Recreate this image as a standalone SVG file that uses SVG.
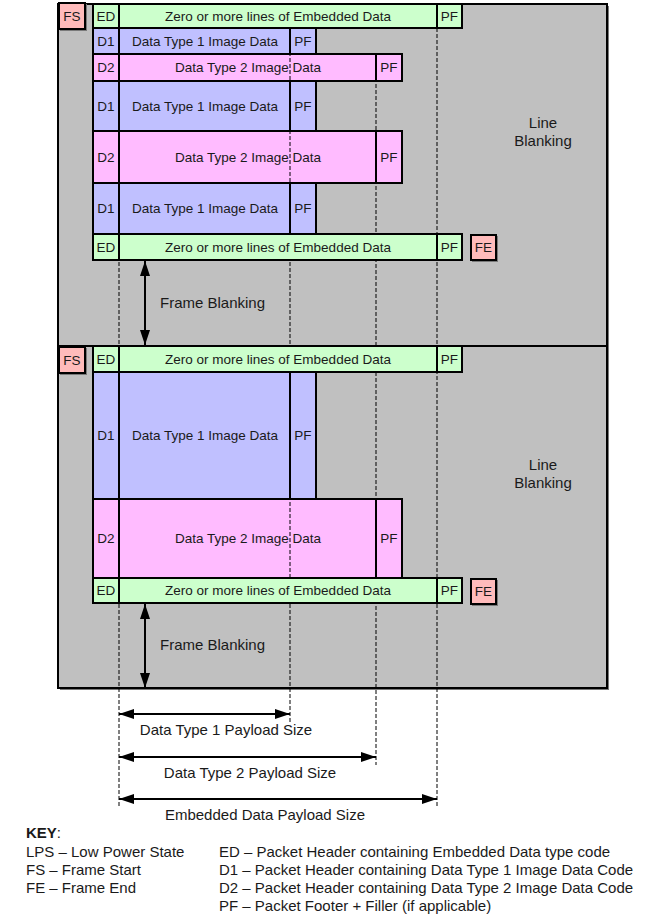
<svg xmlns="http://www.w3.org/2000/svg" width="669" height="918" viewBox="0 0 669 918">
<style>
text{font-family:"Liberation Sans",Arial,sans-serif;fill:#1a1a1a}
.b{font-size:13.5px;text-anchor:middle}
.l{font-size:15px}
.c{text-anchor:middle}
.frame{fill:#c0c0c0;stroke:#000;stroke-width:2}
.sh{fill:#7a7a7a}
.g{fill:#ccffcc;stroke:#000;stroke-width:2}
.v{fill:#c0c0ff;stroke:#000;stroke-width:2}
.p{fill:#ffbbff;stroke:#000;stroke-width:2}
.r{fill:#ffbbbb;stroke:#000;stroke-width:2}
.d{stroke:#000;stroke-width:1;stroke-dasharray:4 2;fill:none}
.a{stroke:#000;stroke-width:2;fill:none;marker-start:url(#ah);marker-end:url(#ah)}
</style>
<defs>
<marker id="ah" viewBox="0 0 15 10" refX="15" refY="5" markerWidth="15" markerHeight="10" markerUnits="userSpaceOnUse" orient="auto-start-reverse"><path d="M0,0 L15,5 L0,10 z" fill="#000"/></marker>
</defs>
<rect width="669" height="918" fill="#fff"/>
<g id="frame1"><rect class="sh" x="60" y="6" width="549" height="342"/><rect class="frame" x="58" y="4" width="549" height="342"/></g>
<g id="frame2"><rect class="sh" x="60" y="348" width="549" height="342"/><rect class="frame" x="58" y="346" width="549" height="342"/></g>

<g id="f1-d1a"><rect class="v" x="93" y="28" width="26" height="26"/><rect class="v" x="119" y="28" width="171" height="26"/><rect class="v" x="290" y="28" width="26" height="26"/>
<text class="b" x="106" y="45.8">D1</text><text class="b" x="205" y="45.8">Data Type 1 Image Data</text><text class="b" x="303" y="45.8">PF</text></g>
<g id="f1-d2a"><rect class="p" x="93" y="54" width="26" height="27"/><rect class="p" x="119" y="54" width="257" height="27"/><rect class="p" x="376" y="54" width="26" height="27"/>
<text class="b" x="106" y="72.3">D2</text><text class="b" x="248" y="72.3">Data Type 2 Image Data</text><text class="b" x="389" y="72.3">PF</text></g>
<g id="f1-d1b"><rect class="v" x="93" y="81" width="26" height="50"/><rect class="v" x="119" y="81" width="171" height="50"/><rect class="v" x="290" y="81" width="26" height="50"/>
<text class="b" x="106" y="110.8">D1</text><text class="b" x="205" y="110.8">Data Type 1 Image Data</text><text class="b" x="303" y="110.8">PF</text></g>
<g id="f1-d2b"><rect class="p" x="93" y="131" width="26" height="52"/><rect class="p" x="119" y="131" width="257" height="52"/><rect class="p" x="376" y="131" width="26" height="52"/>
<text class="b" x="106" y="161.8">D2</text><text class="b" x="248" y="161.8">Data Type 2 Image Data</text><text class="b" x="389" y="161.8">PF</text></g>
<g id="f1-d1c"><rect class="v" x="93" y="183" width="26" height="51"/><rect class="v" x="119" y="183" width="171" height="51"/><rect class="v" x="290" y="183" width="26" height="51"/>
<text class="b" x="106" y="213.3">D1</text><text class="b" x="205" y="213.3">Data Type 1 Image Data</text><text class="b" x="303" y="213.3">PF</text></g>
<g id="f2-d1"><rect class="v" x="93" y="372" width="26" height="127"/><rect class="v" x="119" y="372" width="171" height="127"/><rect class="v" x="290" y="372" width="26" height="127"/>
<text class="b" x="106" y="440.3">D1</text><text class="b" x="205" y="440.3">Data Type 1 Image Data</text><text class="b" x="303" y="440.3">PF</text></g>
<g id="f2-d2"><rect class="p" x="93" y="499" width="26" height="79"/><rect class="p" x="119" y="499" width="257" height="79"/><rect class="p" x="376" y="499" width="26" height="79"/>
<text class="b" x="106" y="543.3">D2</text><text class="b" x="248" y="543.3">Data Type 2 Image Data</text><text class="b" x="389" y="543.3">PF</text></g>

<g id="connectors">
<line class="d" x1="119" y1="4" x2="119" y2="808"/>
<line class="d" x1="290" y1="28" x2="290" y2="723"/>
<line class="d" x1="376" y1="54" x2="376" y2="765"/>
<line class="d" x1="437" y1="28" x2="437" y2="808"/>
</g>

<g id="f1-ed-top"><rect class="g" x="93" y="4" width="26" height="24"/><rect class="g" x="119" y="4" width="318" height="24"/><rect class="g" x="437" y="4" width="25" height="24"/>
<text class="b" x="106" y="20.8">ED</text><text class="b" x="278" y="20.8">Zero or more lines of Embedded Data</text><text class="b" x="449.5" y="20.8">PF</text></g>
<g id="f1-ed-bot"><rect class="g" x="93" y="234" width="26" height="26"/><rect class="g" x="119" y="234" width="318" height="26"/><rect class="g" x="437" y="234" width="25" height="26"/>
<text class="b" x="106" y="251.8">ED</text><text class="b" x="278" y="251.8">Zero or more lines of Embedded Data</text><text class="b" x="449.5" y="251.8">PF</text></g>
<g id="f2-ed-top"><rect class="g" x="93" y="346" width="26" height="26"/><rect class="g" x="119" y="346" width="318" height="26"/><rect class="g" x="437" y="346" width="25" height="26"/>
<text class="b" x="106" y="363.8">ED</text><text class="b" x="278" y="363.8">Zero or more lines of Embedded Data</text><text class="b" x="449.5" y="363.8">PF</text></g>
<g id="f2-ed-bot"><rect class="g" x="93" y="578" width="26" height="25"/><rect class="g" x="119" y="578" width="318" height="25"/><rect class="g" x="437" y="578" width="25" height="25"/>
<text class="b" x="106" y="595.3">ED</text><text class="b" x="278" y="595.3">Zero or more lines of Embedded Data</text><text class="b" x="449.5" y="595.3">PF</text></g>

<g id="fs1"><rect class="sh" x="60" y="4" width="27" height="27"/><rect class="r" x="59" y="3" width="26" height="26"/><text class="b" x="72" y="20.8">FS</text></g>
<g id="fe1"><rect class="sh" x="472" y="236" width="26" height="26"/><rect class="r" x="471" y="235" width="25" height="25"/><text class="b" x="483.5" y="252.3">FE</text></g>
<g id="fs2"><rect class="sh" x="60" y="348" width="27" height="27"/><rect class="r" x="59" y="347" width="26" height="26"/><text class="b" x="72" y="364.8">FS</text></g>
<g id="fe2"><rect class="sh" x="472" y="580" width="26" height="26"/><rect class="r" x="471" y="579" width="25" height="25"/><text class="b" x="483.5" y="596.3">FE</text></g>

<g id="labels">
<text class="l c" x="543" y="128">Line</text><text class="l c" x="543" y="146">Blanking</text>
<text class="l c" x="543" y="470">Line</text><text class="l c" x="543" y="488">Blanking</text>
</g>

<g id="blank1"><line class="a" x1="145" y1="261" x2="145" y2="345"/><text class="l" x="160" y="308">Frame Blanking</text></g>
<g id="blank2"><line class="a" x1="145" y1="604" x2="145" y2="688"/><text class="l" x="160" y="650">Frame Blanking</text></g>

<g id="size1"><line class="a" x1="119" y1="714" x2="290" y2="714"/><text class="l c" x="226" y="735">Data Type 1 Payload Size</text></g>
<g id="size2"><line class="a" x1="119" y1="757" x2="376" y2="757"/><text class="l c" x="250" y="778">Data Type 2 Payload Size</text></g>
<g id="size3"><line class="a" x1="119" y1="799" x2="437" y2="799"/><text class="l c" x="265" y="820">Embedded Data Payload Size</text></g>

<g id="key">
<text class="l" x="26" y="838"><tspan font-weight="bold">KEY</tspan>:</text>
<text class="l" x="26" y="857">LPS – Low Power State</text>
<text class="l" x="26" y="875">FS – Frame Start</text>
<text class="l" x="26" y="893">FE – Frame End</text>
<text class="l" x="219" y="857">ED – Packet Header containing Embedded Data type code</text>
<text class="l" x="219" y="875">D1 – Packet Header containing Data Type 1 Image Data Code</text>
<text class="l" x="219" y="893">D2 – Packet Header containing Data Type 2 Image Data Code</text>
<text class="l" x="219" y="911">PF – Packet Footer + Filler (if applicable)</text>
</g>
</svg>
